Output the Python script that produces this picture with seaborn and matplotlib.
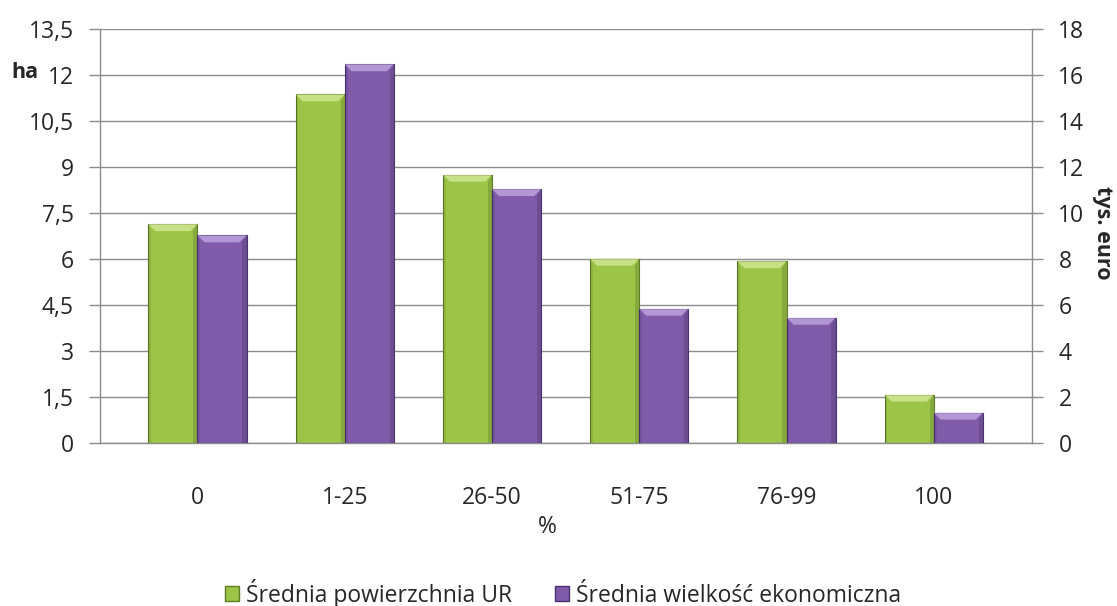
import matplotlib
matplotlib.use("Agg")
import matplotlib.pyplot as plt
from matplotlib.patches import Patch, Polygon
import seaborn as sns
import pandas as pd
import numpy as np

# dane
categories = ["0", "1-25", "26-50", "51-75", "76-99", "100"]
powierzchnia_ha = [7.14, 11.37, 8.75, 6.01, 5.93, 1.58]
wielkosc_tys_euro = [9.03, 16.47, 11.04, 5.84, 5.45, 1.32]
series = ["Średnia powierzchnia UR", "Średnia wielkość ekonomiczna"]
ha_ticks = [0, 1.5, 3, 4.5, 6, 7.5, 9, 10.5, 12, 13.5]
euro_ticks = [0, 2, 4, 6, 8, 10, 12, 14, 16, 18]

GREEN = "#9CC548"
PURPLE = "#7F5BAA"
GRID = "#8c8c8c"
TEXT = "#262626"
FS = 16.5

n = len(categories)
df = pd.DataFrame({
    "kat": categories * 2,
    "seria": [series[0]] * n + [series[1]] * n,
    "ha": powierzchnia_ha + [np.nan] * n,
    "euro": [np.nan] * n + wielkosc_tys_euro,
})

sns.set_theme(style="white")
plt.rcParams["font.family"] = ["Open Sans", "DejaVu Sans"]
plt.rcParams["text.color"] = TEXT

fig, ax = plt.subplots(figsize=(11.17, 6.06), dpi=100)
fig.subplots_adjust(left=100 / 1117, right=1032 / 1117, bottom=163 / 606, top=577 / 606)
ax2 = ax.twinx()

palette = {series[0]: GREEN, series[1]: PURPLE}
sns.barplot(data=df, x="kat", y="ha", hue="seria", hue_order=series, palette=palette,
            width=0.667, errorbar=None, ax=ax, legend=False, saturation=1,
            edgecolor="#5f7d25", linewidth=0.8)
sns.barplot(data=df, x="kat", y="euro", hue="seria", hue_order=series, palette=palette,
            width=0.667, errorbar=None, ax=ax2, legend=False, saturation=1,
            edgecolor="#4a3270", linewidth=0.8)

ax.set_ylim(0, 13.5)
ax2.set_ylim(0, 18)
ax.set_xlim(-0.662, 5.667)
ax2.set_xlim(-0.662, 5.667)


# lekki efekt fazowania krawedzi slupkow
def bevel(axis, light):
    ymin, ymax = axis.get_ylim()
    dy = (ymax - ymin) / 414 * 7
    dx = 7 / 147.3
    for p in list(axis.patches):
        h = p.get_height()
        if not np.isfinite(h) or h <= 0:
            continue
        x0, w = p.get_x(), p.get_width()
        y0 = p.get_y()
        top = y0 + h
        z = p.get_zorder() + 0.1
        axis.add_patch(Polygon([(x0, top), (x0 + w, top), (x0 + w - dx, top - dy), (x0 + dx, top - dy)],
                               closed=True, facecolor=light, edgecolor="none", alpha=0.6, zorder=z))
        axis.add_patch(Polygon([(x0 + w, top), (x0 + w, y0), (x0 + w - dx * 0.6, y0), (x0 + w - dx * 0.6, top - dy)],
                               closed=True, facecolor="black", edgecolor="none", alpha=0.14, zorder=z))
        axis.add_patch(Polygon([(x0, top), (x0, y0), (x0 + dx * 0.4, y0), (x0 + dx * 0.4, top - dy)],
                               closed=True, facecolor="black", edgecolor="none", alpha=0.08, zorder=z))


bevel(ax, "#e6f5b0")
bevel(ax2, "#d8c2f2")

ax.set_yticks(ha_ticks)
ax.set_yticklabels([f"{v:g}".replace(".", ",") for v in ha_ticks])
ax2.set_yticks(euro_ticks)
ax2.set_yticklabels([str(v) for v in euro_ticks])

ax.grid(axis="y", color=GRID, linewidth=1)
ax.grid(axis="x", visible=False)
ax2.grid(False)
ax.set_axisbelow(True)

for s in ["left", "bottom"]:
    ax.spines[s].set_color(GRID)
    ax.spines[s].set_linewidth(1)
ax.spines["right"].set_visible(False)
ax.spines["top"].set_visible(False)
for s in ["left", "bottom", "top"]:
    ax2.spines[s].set_visible(False)
ax2.spines["right"].set_color(GRID)
ax2.spines["right"].set_linewidth(1)

ax.tick_params(axis="y", left=True, length=8, width=1, color=GRID, pad=11, labelsize=FS, labelcolor=TEXT)
ax2.tick_params(axis="y", right=True, length=8, width=1, color=GRID, pad=11, labelsize=FS, labelcolor=TEXT)
ax.tick_params(axis="x", length=0, pad=31, labelsize=FS, labelcolor=TEXT)

ax.set_xlabel("")
ax.set_ylabel("")
ax2.set_ylabel("")

fig.text(547 / 1117, 1 - 527 / 606, "%", ha="center", va="center", fontsize=FS)
fig.text(25 / 1117, 1 - 72 / 606, "ha", ha="center", va="center", fontsize=15.5, fontweight="bold")
fig.text(1103 / 1117, 1 - 233 / 606, "tys. euro", ha="center", va="center", fontsize=15.5,
         fontweight="bold", rotation=-90)

handles = [Patch(facecolor=GREEN, edgecolor="#5f7d25"), Patch(facecolor=PURPLE, edgecolor="#4a3270")]
fig.legend(handles, series, loc="center", bbox_to_anchor=(563 / 1117, 1 - 593 / 606), ncol=2,
           frameon=False, handlelength=0.6, handleheight=0.6, handletextpad=0.3,
           columnspacing=1.9, fontsize=FS, borderpad=0)

fig.savefig("out.png", dpi=100, facecolor="white")
